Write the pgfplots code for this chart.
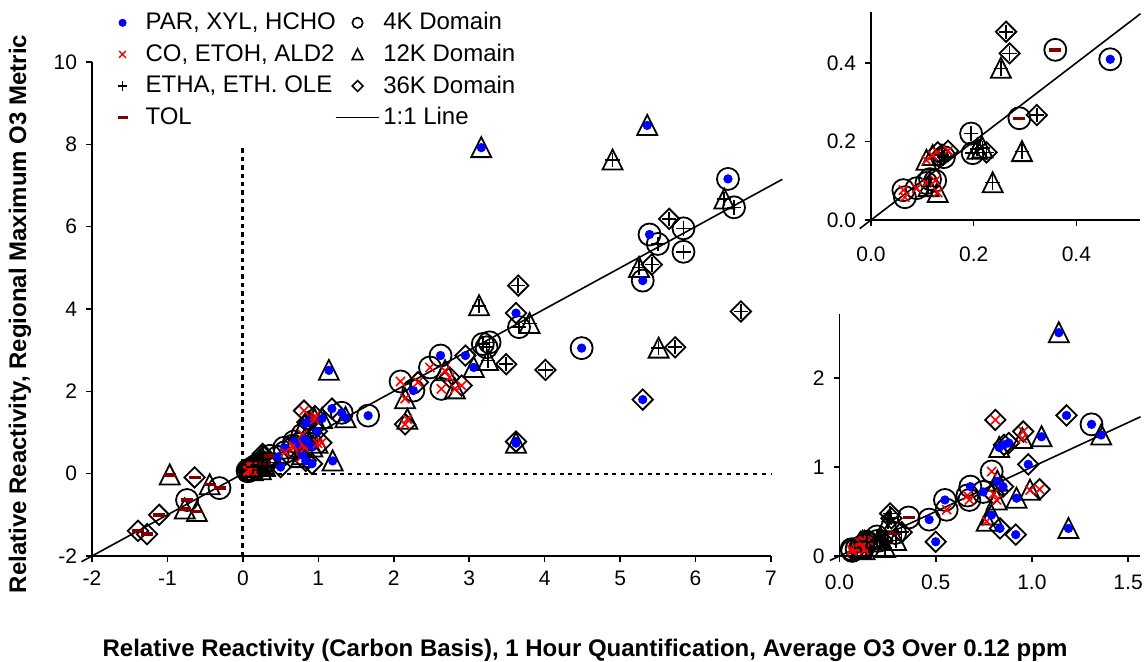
\documentclass[border=0pt]{standalone}
\usepackage{fontspec}
\setmainfont{Liberation Sans}
\usepackage{pgfplots}
\usepackage{pgfplotstable}
\pgfplotsset{compat=1.18}

\definecolor{tolred}{RGB}{128,0,0}

% square standing on a corner, as wide as it is tall
\pgfdeclareplotmark{dmd}{%
  \pgfpathmoveto{\pgfqpoint{0pt}{\pgfplotmarksize}}%
  \pgfpathlineto{\pgfqpoint{\pgfplotmarksize}{0pt}}%
  \pgfpathlineto{\pgfqpoint{0pt}{-\pgfplotmarksize}}%
  \pgfpathlineto{\pgfqpoint{-\pgfplotmarksize}{0pt}}%
  \pgfpathclose\pgfusepathqstroke}
% open triangle, as wide as it is tall
\pgfdeclareplotmark{tri}{%
  \pgfpathmoveto{\pgfqpoint{0pt}{1.05\pgfplotmarksize}}%
  \pgfpathlineto{\pgfqpoint{\pgfplotmarksize}{-0.95\pgfplotmarksize}}%
  \pgfpathlineto{\pgfqpoint{-\pgfplotmarksize}{-0.95\pgfplotmarksize}}%
  \pgfpathclose\pgfusepathqstroke}

% dom: C = 4K, T = 12K, D = 36K domain
% grp: P = PAR/XYL/HCHO, X = CO/ETOH/ALD2, E = ETHA/ETH/OLE, L = TOL
\pgfplotstableread{
x y dom grp
-0.97 -0.03 T L
-0.64 -0.09 D L
-0.44 -0.27 T L
-0.31 -0.35 C L
-0.74 -0.64 C L
-0.77 -0.86 T L
-0.61 -0.92 T L
-1.11 -1.00 D L
-1.39 -1.39 D L
-1.27 -1.47 D L
0.063 0.076 C X
0.066 0.058 C X
0.089 0.081 C X
0.108 0.094 C X
0.115 0.104 C E
0.125 0.100 C X
0.112 0.085 T E
0.130 0.070 T X
0.108 0.152 T X
0.120 0.164 T X
0.130 0.172 D X
0.138 0.166 D E
0.150 0.176 D X
0.142 0.160 C E
0.195 0.220 C E
0.198 0.170 C E
0.207 0.180 T E
0.217 0.183 T E
0.225 0.172 D E
0.237 0.095 T E
0.294 0.174 T E
0.289 0.259 C L
0.323 0.267 D E
0.253 0.386 T E
0.270 0.424 D E
0.263 0.479 D E
0.359 0.433 C L
0.466 0.409 C P
0.500 0.16 D P
0.548 0.63 C P
0.557 0.52 C X
0.680 0.78 C P
0.665 0.68 C X
0.675 0.63 C X
0.747 0.72 C P
0.791 0.95 C X
0.765 0.39 T X
0.790 0.46 T P
0.834 0.31 D P
0.916 0.24 D P
1.190 0.31 T P
0.920 0.65 T P
0.990 0.74 T X
1.040 0.75 D X
0.800 0.70 D X
0.817 0.63 T X
0.850 0.78 D P
0.820 0.84 T P
0.981 1.03 D P
0.830 1.22 T P
0.855 1.25 D P
0.880 1.27 D P
0.955 1.40 D X
0.950 1.32 T X
1.050 1.34 T P
0.810 1.53 D X
1.180 1.58 D P
1.310 1.48 C P
1.360 1.36 T P
1.140 2.51 T P
1.66 1.41 C P
2.09 2.24 C X
2.15 1.82 T X
2.18 1.32 T X
2.15 1.20 D X
2.26 2.02 C P
2.32 2.22 D X
2.48 2.58 C X
2.62 2.87 C P
2.63 2.06 C X
2.68 2.50 T X
2.74 2.34 D X
2.81 2.06 T X
2.90 2.14 D X
2.95 2.87 D P
3.06 2.58 T P
3.18 3.15 C E
3.27 3.19 C E
3.23 3.07 C E
3.25 2.75 T E
3.49 2.66 D E
3.66 3.56 C E
3.80 3.65 T E
3.62 3.90 D P
3.13 4.08 T E
3.65 4.57 D E
3.62 0.74 T P
3.62 0.78 D P
4.49 3.05 C P
4.01 2.52 D E
5.51 3.05 T E
5.73 3.07 D E
6.60 3.94 D E
5.30 1.80 D P
5.30 4.69 C P
5.25 5.01 T E
5.42 5.08 D E
5.84 5.39 C E
5.50 5.58 C E
5.39 5.81 C P
5.84 5.96 C E
5.65 6.19 D E
6.51 6.47 C E
6.38 6.67 T E
6.43 7.16 C P
4.90 7.62 T E
3.16 7.92 T P
5.36 8.46 T P
}\pts

\pgfplotsset{
  domshape/.style={scatter, only marks, forget plot, scatter src=explicit symbolic,
    scatter/classes={
      C={mark=o,   mark size=5.5pt, black, line width=0.9pt},
      T={mark=tri, mark size=5.0pt, black, line width=0.9pt},
      D={mark=dmd, mark size=5.1pt, black, line width=0.9pt}}},
  species/.style={scatter, only marks, forget plot, scatter src=explicit symbolic,
    scatter/classes={
      P={mark=*, mark size=2.1pt, blue},
      X={mark=x, mark size=3.2pt, red, line width=0.8pt},
      E={mark=+, mark size=3.6pt, black, line width=0.8pt},
      L={mark=-, mark size=3pt, tolred, line width=1.7pt}}},
  panel/.style={scale only axis, axis lines=left,
    axis line style={-, line width=0.8pt},
    tick align=outside, major tick length=3pt,
    tick style={black, line width=0.8pt},
    clip=false,
    ticklabel style={font=\fontsize{10.5}{12}\selectfont},
    xticklabel style={yshift=-1pt},
    yticklabel style={xshift=-1pt}},
  oneone/.style={black, line width=0.8pt, forget plot},
  legmark/.style={legend image code/.code={%
    \path[draw=none, fill=none] (-7pt,0pt) rectangle (9.5pt,0pt);
    \draw[##1] plot coordinates {(0pt,0pt)};}},
}

\begin{document}
\begin{tikzpicture}
\path[use as bounding box] (0,0) rectangle (572pt,330.5pt);

% main panel
\begin{axis}[panel,
  at={(46pt,52.5pt)}, anchor=south west,
  width=339.5pt, height=247pt,
  xmin=-2, xmax=7, ymin=-2, ymax=10,
  xtick={-2,-1,0,1,2,3,4,5,6,7},
  xticklabels={-2,-1,0,1,2,3,4,5,6,7},
  ytick={-2,0,2,4,6,8,10},
  yticklabels={-2,0,2,4,6,8,10},
  legend columns=2,
  legend cell align=left,
  legend style={draw=none, fill=none, at={(0.015,1.117)}, anchor=north west,
    font=\fontsize{12}{13.5}\selectfont, row sep=1.6pt,
    /tikz/every even column/.append style={column sep=-2.5pt}},
]
\addlegendimage{legmark, only marks, mark=*, blue, mark size=1.8pt}
\addlegendentry{PAR, XYL, HCHO}
\addlegendimage{legmark, only marks, mark=o, black, mark size=2.6pt, line width=0.8pt}
\addlegendentry{4K Domain}
\addlegendimage{legmark, only marks, mark=x, red, mark size=2.4pt, line width=0.7pt}
\addlegendentry{CO, ETOH, ALD2}
\addlegendimage{legmark, only marks, mark=tri, black, mark size=2.7pt, line width=0.8pt}
\addlegendentry{12K Domain}
\addlegendimage{legmark, only marks, mark=+, black, mark size=2.4pt, line width=0.7pt}
\addlegendentry{ETHA, ETH. OLE}
\addlegendimage{legmark, only marks, mark=dmd, black, mark size=2.7pt, line width=0.8pt}
\addlegendentry{36K Domain}
\addlegendimage{legmark, only marks, mark=-, tolred, mark size=2.5pt, line width=1.6pt}
\addlegendentry{TOL}
\addlegendimage{legend image code/.code={\draw[black, line width=0.7pt] (-11pt,0pt) -- (10.5pt,0pt);}}
\addlegendentry{1:1 Line}

\addplot[black, line width=1.6pt, dash pattern=on 2.2pt off 2pt, forget plot]
  coordinates {(0,-2) (0,7.97)};
\addplot[black, line width=0.9pt, dash pattern=on 2pt off 2.4pt, forget plot]
  coordinates {(0,0) (7,0)};
\addplot[oneone] coordinates {(-2.14,-2.14) (7.15,7.15)};
\addplot[domshape] table[x=x, y=y, meta=dom] {\pts};
\addplot[species] table[x=x, y=y, meta=grp] {\pts};
\end{axis}

% close-up of the smallest values
\begin{axis}[panel,
  at={(435.5pt,220.5pt)}, anchor=south west,
  width=134.5pt, height=104.15pt,
  xmin=0, xmax=0.524, ymin=0, ymax=0.53,
  xtick={0,0.2,0.4}, xticklabels={0.0,0.2,0.4},
  ytick={0,0.2,0.4}, yticklabels={0.0,0.2,0.4},
  xticklabel style={yshift=-6pt},
]
\addplot[oneone] coordinates {(-0.022,-0.022) (0.525,0.525)};
\addplot[domshape, restrict x to domain=0:0.48, restrict y to domain=0:0.54]
  table[x=x, y=y, meta=dom] {\pts};
\addplot[species, restrict x to domain=0:0.48, restrict y to domain=0:0.54]
  table[x=x, y=y, meta=grp] {\pts};
\end{axis}

% close-up of the values below 1.5
\begin{axis}[panel,
  at={(419.75pt,52.5pt)}, anchor=south west,
  width=150.25pt, height=121pt,
  xmin=0, xmax=1.562, ymin=0, ymax=2.72,
  xtick={0,0.5,1,1.5}, xticklabels={0.0,0.5,1.0,1.5},
  ytick={0,1,2}, yticklabels={0,1,2},
  xticklabel style={yshift=-2pt},
]
\addplot[oneone] coordinates {(-0.05,-0.05) (1.565,1.565)};
\addplot[domshape, restrict x to domain=0:1.57, restrict y to domain=0:2.75]
  table[x=x, y=y, meta=dom] {\pts};
\addplot[species, restrict x to domain=0:1.57, restrict y to domain=0:2.75]
  table[x=x, y=y, meta=grp] {\pts};
\end{axis}

\node[font=\bfseries\fontsize{12}{14}\selectfont] at (292.5pt,5.5pt)
  {Relative Reactivity (Carbon Basis), 1 Hour Quantification, Average O3 Over 0.12 ppm};
\node[font=\bfseries\fontsize{12}{14}\selectfont, rotate=90] at (10pt,173.5pt)
  {Relative Reactivity, Regional Maximum O3 Metric};
\end{tikzpicture}
\end{document}
